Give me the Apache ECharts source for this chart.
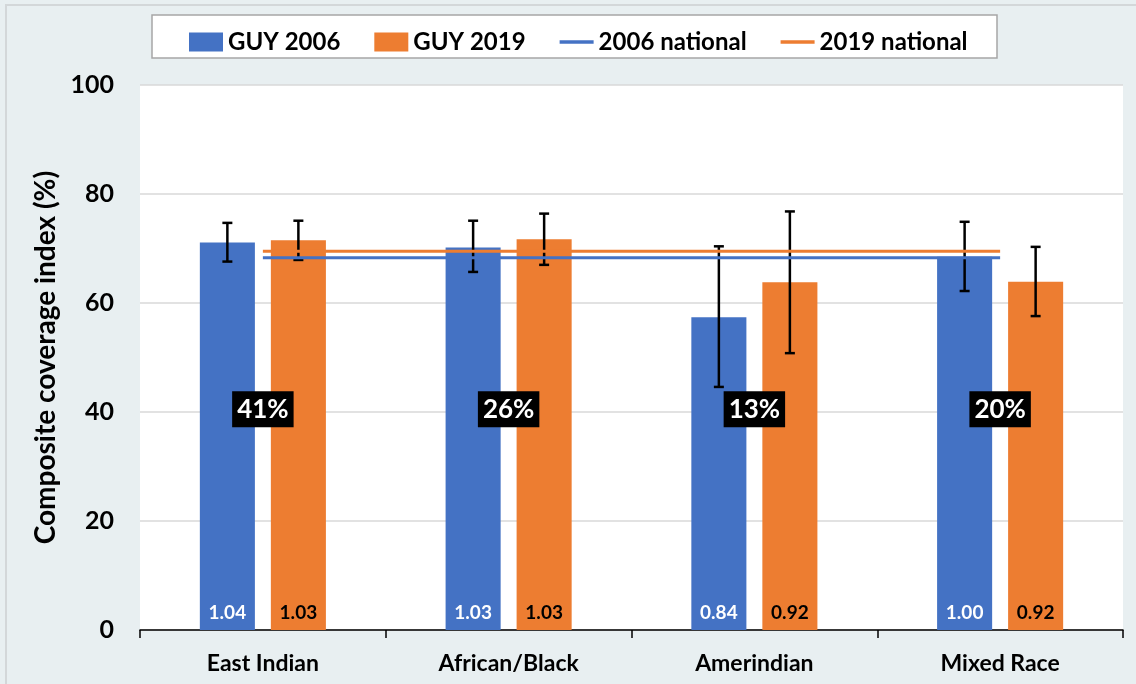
<!DOCTYPE html>
<html>
<head>
<meta charset="utf-8">
<script src="https://cdn.jsdelivr.net/npm/echarts@6/dist/echarts.min.js"></script>
<style>
html,body{margin:0;padding:0;background:#e8eff1;}
#chart{width:1136px;height:684px;}
</style>
</head>
<body>
<div id="chart"></div>
<script>
const categories = ['East Indian', 'African/Black', 'Amerindian', 'Mixed Race'];
const guy2006 = [71.1, 70.2, 57.4, 68.5];
const guy2019 = [71.5, 71.7, 63.8, 63.9];
const err2006Low = [67.6, 65.7, 44.6, 62.2];
const err2006High = [74.7, 75.1, 70.4, 74.9];
const err2019Low = [67.9, 67.0, 50.8, 57.6];
const err2019High = [75.1, 76.4, 76.8, 70.3];
const national2006 = [68.3, 68.3, 68.3, 68.3];
const national2019 = [69.5, 69.5, 69.5, 69.5];
const shares = ['41%', '26%', '13%', '20%'];
const shareY = [40.5, 40.5, 40.5, 40.5];
const ratio2006 = ['1.04', '1.03', '0.84', '1.00'];
const ratio2019 = ['1.03', '1.03', '0.92', '0.92'];
const yMin = 0, yMax = 100, yInterval = 20;

const FONT = 'Lato, "Open Sans", sans-serif';
const BLUE = '#4472c4', ORANGE = '#ed7d31';
const BAR_FRAC = 0.224, GAP_FRAC = 0.29;

function errSeries(low, high, sign) {
  return {
    type: 'custom',
    z: 3,
    silent: true,
    data: categories.map((c, i) => [i, low[i], high[i]]),
    encode: { x: 0, y: [1, 2] },
    renderItem: function (params, api) {
      const band = api.size([1, 0])[0];
      const bw = band * BAR_FRAC;
      const off = sign * (bw + bw * GAP_FRAC) / 2;
      const p1 = api.coord([api.value(0), api.value(1)]);
      const p2 = api.coord([api.value(0), api.value(2)]);
      const x = p1[0] + off;
      const cap = 5;
      const st = { stroke: '#000', lineWidth: 2.5 };
      return {
        type: 'group',
        children: [
          { type: 'line', shape: { x1: x, y1: p1[1], x2: x, y2: p2[1] }, style: st },
          { type: 'line', shape: { x1: x - cap, y1: p1[1], x2: x + cap, y2: p1[1] }, style: st },
          { type: 'line', shape: { x1: x - cap, y1: p2[1], x2: x + cap, y2: p2[1] }, style: st }
        ]
      };
    }
  };
}

const chart = echarts.init(document.getElementById('chart'));
chart.setOption({
  backgroundColor: '#e8eff1',
  animation: false,
  textStyle: { fontFamily: FONT },
  graphic: [
    { type: 'rect', z: -10, shape: { x: 6, y: 5, width: 1140, height: 700 },
      style: { fill: 'none', stroke: '#d3d7d9', lineWidth: 2 } },
    { type: 'rect', z: -5, shape: { x: 152, y: 15, width: 845, height: 43 },
      style: { fill: '#fff', stroke: '#a6a6a6', lineWidth: 1.5 } }
  ],
  legend: {
    left: 184, top: 25,
    itemWidth: 34, itemHeight: 19, itemGap: 34,
    textStyle: { fontFamily: FONT, fontSize: 24, fontWeight: 'bold', color: '#000' },
    data: [
      { name: 'GUY 2006', icon: 'rect' },
      { name: 'GUY 2019', icon: 'rect' },
      { name: '2006 national', icon: 'path://M0,0H40V4H0Z' },
      { name: '2019 national', icon: 'path://M0,0H40V4H0Z' }
    ]
  },
  grid: { left: 140, right: 13, top: 85, bottom: 54, show: true, backgroundColor: '#fff', borderWidth: 0 },
  xAxis: {
    type: 'category',
    data: categories,
    axisLine: { lineStyle: { color: '#000', width: 1.5 } },
    axisTick: { show: true, length: 8, lineStyle: { color: '#000', width: 1.5 } },
    axisLabel: { fontFamily: FONT, fontSize: 23, fontWeight: 'bold', color: '#000', margin: 22 }
  },
  yAxis: {
    type: 'value',
    min: yMin, max: yMax, interval: yInterval,
    name: 'Composite coverage index (%)',
    nameLocation: 'middle',
    nameGap: 75,
    nameTextStyle: { fontFamily: FONT, fontSize: 28, fontWeight: 'bold', color: '#000' },
    axisLine: { show: false },
    axisTick: { show: false },
    splitLine: { lineStyle: { color: '#d9d9d9', width: 1.5 } },
    axisLabel: { fontFamily: FONT, fontSize: 25, fontWeight: 'bold', color: '#000', margin: 26 }
  },
  series: [
    {
      name: 'GUY 2006', type: 'bar', z: 2,
      data: guy2006,
      barWidth: (BAR_FRAC * 100) + '%',
      barGap: (GAP_FRAC * 100) + '%',
      itemStyle: { color: BLUE },
      label: {
        show: true, position: 'insideBottom', distance: 8,
        formatter: p => ratio2006[p.dataIndex],
        color: '#fff', fontFamily: FONT, fontSize: 19, fontWeight: 'bold'
      }
    },
    {
      name: 'GUY 2019', type: 'bar', z: 2,
      data: guy2019,
      barWidth: (BAR_FRAC * 100) + '%',
      barGap: (GAP_FRAC * 100) + '%',
      itemStyle: { color: ORANGE },
      label: {
        show: true, position: 'insideBottom', distance: 8,
        formatter: p => ratio2019[p.dataIndex],
        color: '#000', fontFamily: FONT, fontSize: 19, fontWeight: 'bold'
      }
    },
    errSeries(err2006Low, err2006High, -1),
    errSeries(err2019Low, err2019High, 1),
    {
      name: '2006 national', type: 'line', z: 4, symbol: 'none',
      data: national2006, color: BLUE,
      lineStyle: { color: BLUE, width: 3 }
    },
    {
      name: '2019 national', type: 'line', z: 4, symbol: 'none',
      data: national2019, color: ORANGE,
      lineStyle: { color: ORANGE, width: 3 }
    },
    {
      type: 'scatter', z: 6, silent: true, symbolSize: 0,
      itemStyle: { opacity: 1 },
      data: shareY,
      label: {
        show: true, position: 'inside',
        formatter: p => shares[p.dataIndex],
        backgroundColor: '#000', color: '#fff', opacity: 1,
        padding: [6, 5, 4, 5],
        fontFamily: FONT, fontSize: 26, fontWeight: 'bold'
      }
    }
  ]
});
</script>
</body>
</html>
